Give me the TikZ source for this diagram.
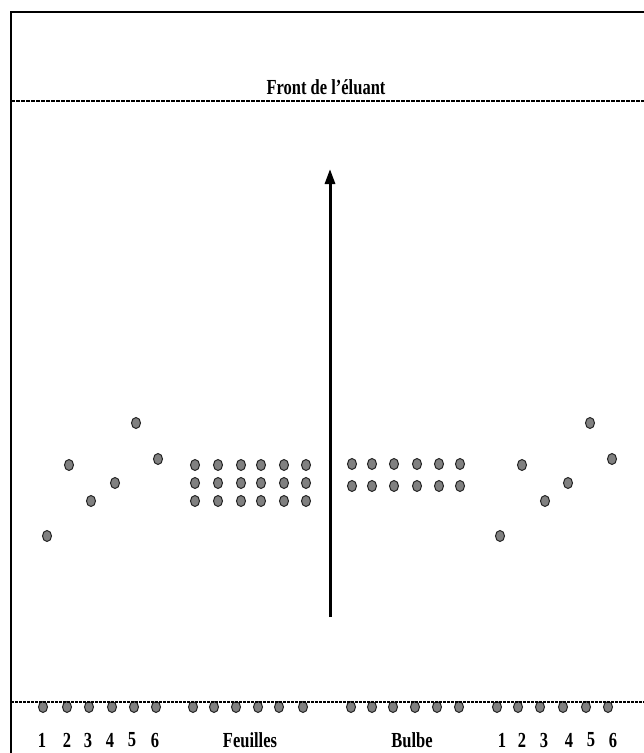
\documentclass[tikz,border=0pt]{standalone}
\usepackage{fontspec}
\setmainfont{Liberation Serif}
\usetikzlibrary{arrows.meta,shapes.geometric}
\begin{document}
\begin{tikzpicture}[x=1pt,y=-1pt,
  spot/.style={draw=black!85,fill=black!50,line width=1pt,ellipse,minimum width=9pt,minimum height=11pt,inner sep=0pt},
  lab/.style={font=\bfseries\fontsize{16.5}{18}\selectfont,yscale=1.3,transform shape,inner sep=0pt},
  front/.style={dash pattern=on 3.5pt off 1.5pt,line width=1.6pt},
  base/.style={dash pattern=on 2.5pt off 1.5pt,line width=2.2pt},
  frame/.style={line width=2pt}]
\useasboundingbox (0,0) rectangle (644,753);
% frame
\coordinate (fbl) at (11,753);
\coordinate (ftl) at (11,12);
\coordinate (ftr) at (644,12);
\draw[frame] (fbl) -- (ftl) -- (ftr);
% solvent front
\coordinate (frontL) at (11,101);
\coordinate (frontR) at (644,101);
\draw[front] (frontL) -- (frontR);
\node[lab] (title) at (326,87) {Front de l’éluant};
% arrow
\coordinate (arrS) at (330,617);
\coordinate (arrE) at (330,169);
\draw[line width=3pt,-{Triangle[length=15pt,width=10pt]}] (arrS) -- (arrE);
% bottom spots (origin)
\foreach \x [count=\i] in {43,67,89,112,134,156,193,214,236,258,279,303,351,372,393,415,437,459,497,518,540,563,586,608}
  \node[spot] (o\i) at (\x,707) {};
\coordinate (baseL) at (11,702);
\coordinate (baseR) at (644,702);
\draw[base] (baseL) -- (baseR);
% left samples 1-6
\node[spot] (l1) at (47,536) {};
\node[spot] (l2) at (69,465) {};
\node[spot] (l3) at (91,501) {};
\node[spot] (l4) at (115,483) {};
\node[spot] (l5) at (136,423) {};
\node[spot] (l6) at (158,459) {};
% Feuilles grid
\foreach \x [count=\i] in {195,218,241,261,284,306}{
  \node[spot] (fa\i) at (\x,465) {};
  \node[spot] (fb\i) at (\x,483) {};
  \node[spot] (fc\i) at (\x,501) {};
}
% Bulbe grid
\foreach \x [count=\i] in {352,372,394,417,439,460}{
  \node[spot] (ba\i) at (\x,464) {};
  \node[spot] (bb\i) at (\x,486) {};
}
% right samples 1-6
\node[spot] (r1) at (500,536) {};
\node[spot] (r2) at (522,465) {};
\node[spot] (r3) at (545,501) {};
\node[spot] (r4) at (568,483) {};
\node[spot] (r5) at (590,423) {};
\node[spot] (r6) at (612,459) {};
% labels
\foreach \x/\t [count=\i] in {42/1,67/2,88/3,110/4,132/5,155/6}
  \node[lab] (ln\i) at (\x,740) {\t};
\node[lab] (feu) at (250,740) {Feuilles};
\node[lab] (bul) at (412,740) {Bulbe};
\foreach \x/\t [count=\i] in {502/1,522/2,544/3,569/4,591/5,613/6}
  \node[lab] (rn\i) at (\x,740) {\t};
\end{tikzpicture}
\end{document}
